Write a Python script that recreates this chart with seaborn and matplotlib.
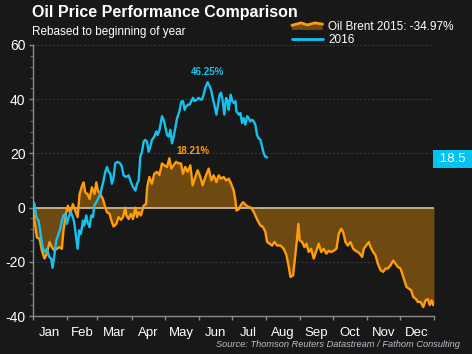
import matplotlib
matplotlib.use("Agg")
import matplotlib.pyplot as plt
import seaborn as sns
import pandas as pd
from matplotlib.patches import Polygon
from matplotlib.lines import Line2D
from matplotlib.legend_handler import HandlerBase
import matplotlib.transforms as mtransforms

# ---- data (day of year, % change rebased to start of year) ----
brent15_day = [0, 1.8, 4, 6.4, 8.5, 10.9, 13.1, 15.5, 17.6, 19.7, 22.2, 24.6, 26.7, 28.2, 30.4,
               32.2, 34.3, 36.7, 38.9, 41, 42.8, 45, 46.4, 48, 50, 51.9, 54, 56.4, 58, 59.5,
               61.6, 64, 66.2, 67.7, 70.1, 72.2, 73.7, 76.2, 78.3, 80.4, 82.3, 84.4, 85.3, 87.4,
               89.5, 91.4, 93.5, 95, 96.5, 98.6, 101, 103.2, 104.3, 106.2, 108.6, 110.7, 113.2,
               115.3, 117.7, 119.8, 122.3, 124.4, 126.2, 128.3, 130.5, 132.8, 135, 136.8, 138.9,
               141, 143.5, 145.6, 148, 150.1, 152.6, 154.7, 157.1, 160.2, 162.6, 164.7, 167.2,
               169.3, 171.4, 173.8, 176, 178.4, 180.6, 182.9, 184.5, 185.4, 187.5, 189, 191.4,
               193.5, 195.6, 198.1, 200.5, 202.6, 204.7, 207.2, 209.6, 211.7, 213.3, 215.4,
               217.8, 219.9, 222.4, 225.4, 228.4, 230.9, 233, 234.5, 236.9, 239, 240.5, 241.7,
               242.9, 245.1, 247.2, 249, 251.1, 253.3, 255.7, 258.1, 260.2, 262.4, 264.7, 267.2,
               269.3, 271.5, 273.9, 276.3, 278.4, 280.6, 282.4, 284.5, 286.6, 289.1, 291.5,
               293.6, 295.7, 297.5, 299.7, 301.2, 303.3, 305.7, 307.3, 309.7, 311.8, 313.9,
               316.4, 318.8, 320.9, 323, 325.5, 327.9, 330, 332.1, 334.6, 336.1, 337.6, 340,
               342.1, 344.3, 346.1, 348.2, 350.3, 352.8, 355.2, 357.3, 359.4, 361.2, 362.8,
               364.3, 365]
brent15_val = [0, -4.8, -11, -11.5, -15.8, -18.8, -17, -12.7, -14.6, -15.8, -15.2, -14.6, -15.2,
               -8.4, -2.3, 0.7, -2.3, 1.3, -1.1, -3.5, 5, 8, 9.3, 5.6, 5, 3.2, 7.5, 5, 9.3, 6.2,
               5, 3.2, 0, -1.7, -2.3, -5.4, -7, -6, -3.5, -4.5, -3.5, 0, -2.9, -4.2, -2.3, -4.2,
               0, -3.5, -1.7, -2.9, 0.7, 1.3, 7.6, 11.3, 8.8, 12.5, 13.2, 12, 16.3, 15.6, 15,
               18.21, 14.4, 15.6, 16.9, 16.3, 16.3, 12.5, 15, 13.2, 15.6, 8.2, 11.3, 13.8, 11.3,
               8.2, 11.3, 14.4, 10, 11.9, 9.4, 11.9, 10.7, 11.3, 10, 10.7, 8.8, 6.3, 2.6, -1.1,
               -0.5, 0.7, 2, 1.1, 0.4, 0.1, -1.1, -2.9, -4.8, -6.6, -7.2, -9, -12.7, -13.3, -14,
               -12.7, -14, -14, -15.2, -17.6, -21.9, -25.6, -25, -16.9, -11.5, -6, -12.1, -12.7,
               -14.6, -13.3, -16.4, -15.2, -18.8, -15.9, -13.3, -16.4, -15.2, -17, -15.9, -16.4,
               -15.9, -15.2, -9.7, -7.8, -9, -12.7, -14, -12.7, -15.2, -15.9, -16.4, -17, -18.2,
               -15.2, -14, -12.7, -14.6, -16.4, -17.6, -20.7, -23.1, -23.7, -22.5, -22.5, -21.3,
               -19.5, -20.7, -21.9, -22.5, -24.4, -26.2, -29.3, -29.9, -30.5, -33, -33.6, -34.8,
               -34.8, -36.7, -34.2, -33.8, -36, -34.2, -36, -34.97]

oil16_day = [0, 1.8, 3.4, 5.5, 7, 9.1, 10.9, 13.1, 15.2, 17, 18.2, 19.7, 21.6, 23.7, 25.2, 26.7,
             28.2, 29.8, 31.3, 32.8, 34.9, 36.7, 37.9, 39.8, 41, 42.5, 44, 45.9, 47, 48.9, 50,
             51.9, 53.4, 55, 56.1, 58, 59.5, 61.6, 63.1, 64.6, 66.2, 67.7, 69.2, 70.7, 72.2,
             73.7, 75.2, 77.3, 79.8, 81.3, 82.8, 85.3, 87.4, 89.5, 91.4, 93.5, 95, 96.5, 98,
             99.6, 101, 102.6, 104.1, 105.6, 107.1, 108.6, 110.7, 112.5, 113.7, 115.5, 117.7,
             119.2, 120.7, 122.3, 123.8, 125.3, 126.8, 128.3, 129.8, 131.4, 133.5, 135.3, 136.8,
             138.3, 139.8, 141.4, 142.8, 144.4, 145.9, 147.4, 149.6, 151, 152.6, 154.1, 155.6,
             157.1, 159.2, 161, 162.6, 164.1, 165.6, 167.2, 168.7, 170.1, 171.4, 172.9, 174.4,
             176, 177.5, 178.4, 180.1, 181.6, 183, 184.5, 185.4, 187.5, 189, 190.5, 192, 193.5,
             195.1, 196.6, 198.1, 199.6, 201.1, 202.6, 204.1, 205.6, 207.2, 208.7, 210.2, 211.7,
             213.3]
oil16_val = [2.6, 1.3, -3.5, -4.8, -8.4, -14.6, -16.4, -15.2, -18.2, -18.8, -22.2, -18.2, -12.1,
             -9.7, -7.8, -4.8, -2.9, -2.3, -6, -3.5, -1.7, -3.5, -5.4, -11.5, -15.2, -8.4, -9.7,
             -4.8, -6.6, -2.9, -5.4, -7.2, -2.9, -3.5, 0.7, 2, 3.2, 5, 7.5, 10, 13.2, 15, 13.2,
             12.5, 8.8, 11.3, 16.3, 16.9, 16.3, 15, 11.9, 11.3, 11.9, 9.4, 7.6, 6.3, 8.8, 10,
             18.8, 20.6, 24.3, 25, 24.3, 20.6, 22.5, 25, 26.2, 28.1, 26.8, 28.7, 33.7, 32.4,
             29.9, 26.8, 26.2, 28.7, 23.7, 26.2, 29.3, 33, 35.5, 39.1, 39.3, 36.1, 37.4, 38, 38,
             39.3, 40.5, 39.3, 39.9, 40.5, 39.9, 39.9, 41.7, 44.2, 46.25, 44.8, 43, 39.9, 37.4,
             34.3, 38, 41.7, 42.4, 39.3, 34.3, 40.5, 39.1, 36.1, 41.7, 39.3, 38.6, 39.3, 35.5,
             34.3, 34.9, 31.2, 33, 30.6, 33.7, 33, 31.8, 32.4, 31.8, 30.6, 26.8, 25.6, 25, 22.5,
             20, 18.8, 18.5]

month_edges = [0, 31, 59, 90, 120, 151, 181, 212, 243, 273, 304, 334, 365]
month_labels = ["Jan", "Feb", "Mar", "Apr", "May", "Jun", "Jul", "Aug", "Sep", "Oct", "Nov", "Dec"]
y_ticks = [-40, -20, 0, 20, 40, 60]

BG = "#181818"
ORANGE = "#ff9d0a"
FILL = "#6f4a10"
BLUE = "#12c3f0"

sns.set_style("dark", {"axes.facecolor": BG, "figure.facecolor": BG})
plt.rcParams["font.family"] = ["Liberation Sans", "DejaVu Sans"]

df15 = pd.DataFrame({"day": brent15_day, "val": brent15_val})
df16 = pd.DataFrame({"day": oil16_day, "val": oil16_val})

fig = plt.figure(figsize=(4.72, 3.54), dpi=100)
ax = fig.add_axes([32.5 / 472, 1 - 316 / 354, (434 - 32.5) / 472, (316 - 45) / 354])
ax.set_facecolor(BG)

for yv in [20, 40, 60, -20]:
    ax.axhline(yv, color="#3a3a3a", lw=0.7, ls=(0, (2, 2)), zorder=0)

ax.fill_between(df15["day"], df15["val"], 0, color=FILL, lw=0, zorder=1)
ax.axhline(0, color="#c9b99a", lw=1.3, zorder=2)
sns.lineplot(data=df15, x="day", y="val", ax=ax, color=ORANGE, lw=1.7, zorder=3)
sns.lineplot(data=df16, x="day", y="val", ax=ax, color=BLUE, lw=1.7, zorder=4)

ax.set_xlim(0, 365)
ax.set_ylim(-40, 60)
ax.set_xlabel("")
ax.set_ylabel("")

ax.set_xticks(month_edges)
ax.set_xticklabels([])
ax.set_xticks([(month_edges[i] + month_edges[i + 1]) / 2 for i in range(12)], minor=True)
ax.set_xticklabels(month_labels, minor=True)
ax.tick_params(axis="x", which="major", length=3, color="#8a8a8a", width=1, direction="out", bottom=True)
ax.tick_params(axis="x", which="minor", length=0, labelsize=9.5, labelcolor="white", pad=8, bottom=True)

ax.set_yticks(y_ticks)
ax.set_yticklabels([str(v) for v in y_ticks])
ax.set_yticks(list(range(-40, 61, 4)), minor=True)
ax.tick_params(axis="y", which="major", length=3, color="#8a8a8a", width=1, labelsize=10,
               labelcolor="white", pad=2, left=True)
ax.tick_params(axis="y", which="minor", length=2, color="#6a6a6a", width=0.8, left=True)

for s in ["top", "right"]:
    ax.spines[s].set_visible(False)
for s in ["left", "bottom"]:
    ax.spines[s].set_visible(True)
    ax.spines[s].set_color("#8a8a8a")
    ax.spines[s].set_linewidth(1)
ax.grid(False)

# annotations
ax.text(159.5, 50, "46.25%", color=BLUE, fontsize=7, fontweight="bold", ha="center", va="center")
ax.text(146, 20.9, "18.21%", color=ORANGE, fontsize=7, fontweight="bold", ha="center", va="center")

trans = mtransforms.blended_transform_factory(ax.transAxes, ax.transData)
ax.text(1.005, 18.0, " 18.5 ", transform=trans, color="white", fontsize=9.5, ha="left", va="center",
        bbox=dict(boxstyle="square,pad=0.25", facecolor="#00c3f0", edgecolor="none"))

# titles
fig.text(32 / 472, 1 - 5 / 354, "Oil Price Performance Comparison", color="white", fontsize=11.5,
         fontweight="bold", ha="left", va="top")
fig.text(32 / 472, 1 - 26 / 354, "Rebased to beginning of year", color="white", fontsize=8.5,
         ha="left", va="top")
fig.text(460 / 472, 1 - 349 / 354, "Source: Thomson Reuters Datastream / Fathom Consulting",
         color="#b9c0cc", fontsize=6.7, style="italic", ha="right", va="bottom")


# legend with area-style handle (zigzag top edge)
class AreaHandler(HandlerBase):
    def create_artists(self, legend, orig_handle, xd, yd, width, height, fontsize, trans):
        fx = [0.0, 0.3, 0.5, 0.75, 1.0]
        fy = [0.55, 0.85, 0.6, 0.85, 0.7]
        top = [(-xd + f * width, -yd + g * height) for f, g in zip(fx, fy)]
        poly = Polygon(top + [(-xd + width, -yd), (-xd, -yd)], closed=True,
                       facecolor=FILL, edgecolor="none", transform=trans)
        line = Line2D([p[0] for p in top], [p[1] for p in top], color=ORANGE, lw=2, transform=trans)
        return [poly, line]


h15 = Line2D([], [], color=ORANGE)
h16 = Line2D([], [], color=BLUE, lw=2)
leg = fig.legend([h15, h16], ["Oil Brent 2015: -34.97%", "2016"],
                 handler_map={h15: AreaHandler()},
                 loc="upper left", bbox_to_anchor=(286 / 472, 1 - 15 / 354), frameon=False,
                 fontsize=8.5, labelcolor="white", handlelength=2.6, handletextpad=0.5,
                 labelspacing=0.1, borderpad=0)

fig.savefig("out.png", dpi=100, facecolor=BG)
